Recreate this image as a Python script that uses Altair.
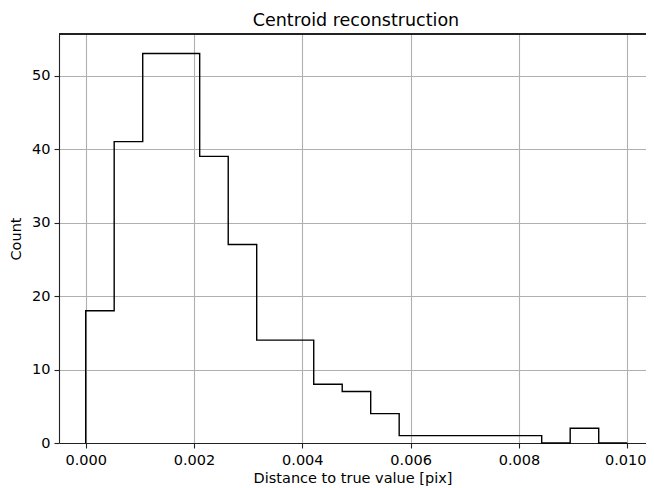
import altair as alt
import pandas as pd

# Histogram bin edges (19 equal bins from 0 to 0.01)
edges = [0.0, 0.000526, 0.001053, 0.001579, 0.002105, 0.002632, 0.003158,
         0.003684, 0.004211, 0.004737, 0.005263, 0.005789, 0.006316,
         0.006842, 0.007368, 0.007895, 0.008421, 0.008947, 0.009474, 0.010000]
counts = [18, 41, 53, 53, 39, 27, 14, 14, 8, 7, 4, 1, 1, 1, 1, 1, 0, 2, 0]

x_ticks = [0.000, 0.002, 0.004, 0.006, 0.008, 0.010]
y_ticks = [0, 10, 20, 30, 40, 50]

# Build the step outline (histtype='step')
xs, ys = [edges[0]], [0]
for i, c in enumerate(counts):
    xs += [edges[i], edges[i + 1]]
    ys += [c, c]
xs.append(edges[-1])
ys.append(0)
df = pd.DataFrame({"x": xs, "y": ys, "order": list(range(len(xs)))})

FONT = "DejaVu Sans"
W, H = 587, 409

xscale = alt.Scale(domain=[-0.000493, 0.010347], nice=False, zero=False)
yscale = alt.Scale(domain=[0, 55.65], nice=False)

line = alt.Chart(df).mark_line(color="black", strokeWidth=1.4, strokeJoin="miter",
                               strokeCap="butt").encode(
    x=alt.X("x:Q", scale=xscale,
            axis=alt.Axis(values=x_ticks, format=".3f",
                          title="Distance to true value [pix]",
                          labelOffset=alt.ExprRef("datum.value > 0.009 ? -2 : 0"))),
    y=alt.Y("y:Q", scale=yscale,
            axis=alt.Axis(values=y_ticks, format="d", title="Count")),
    order="order:O",
)

top_spine = alt.Chart(df).mark_rule(color="#222222", strokeWidth=1.1).encode(
    x=alt.value(0), x2=alt.value(W), y=alt.value(0)
)

chart = alt.layer(line, top_spine).properties(
    width=W, height=H,
    autosize=alt.AutoSizeParams(type="none"),
    padding={"left": 51, "top": 26, "right": 0, "bottom": 44},
    title=alt.TitleParams("Centroid reconstruction", fontSize=17.5, fontWeight="normal",
                          font=FONT, anchor="middle", color="black", offset=4, dx=3.5),
).configure_view(stroke=None).configure_axis(
    labelFont=FONT, titleFont=FONT, labelFontSize=14.5, titleFontSize=14.5,
    labelColor="black", titleColor="black", titleFontWeight="normal",
    domainColor="#222222", domainWidth=1.1, tickColor="#222222", tickWidth=1.1,
    tickSize=5, labelPadding=5, grid=True, gridColor="#b0b0b0", gridWidth=1.1,
).configure_axisX(titlePadding=5).configure_axisY(titlePadding=8, labelPadding=4)

chart.save("out.html", embed_options={"renderer": "svg", "actions": False})
